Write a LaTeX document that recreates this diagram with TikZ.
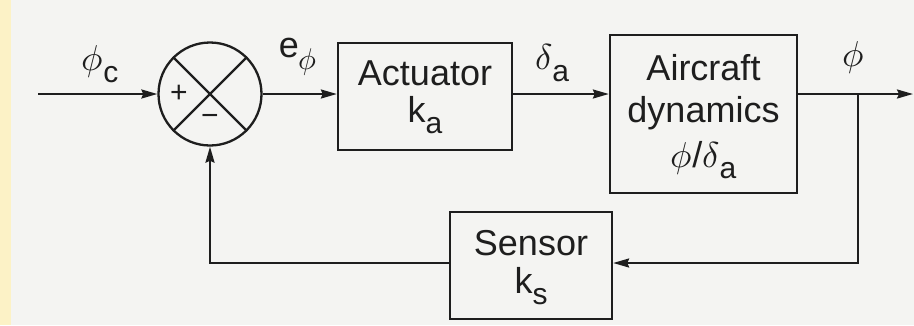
\documentclass[tikz,border=0pt]{standalone}
\usepackage{fontspec}
\usepackage{unicode-math}
\setmainfont{Liberation Sans}
\setmathfont{Latin Modern Math}
\usetikzlibrary{arrows.meta,calc}
\definecolor{paper}{HTML}{F4F4F2}
\definecolor{strip}{HTML}{FCF2C6}
\definecolor{ink}{HTML}{1E1E1E}
\newcommand{\sbx}[1]{\raisebox{-0.32em}{\fontsize{30}{30}\selectfont #1}}
\begin{document}
\begin{tikzpicture}[x=1pt,y=-1pt,
  every node/.style={text=ink},
  blk/.style={draw=ink,line width=2.3pt,rectangle,inner sep=0pt},
  txt/.style={anchor=base,inner sep=0pt,font=\fontsize{36}{40}\selectfont},
  lbl/.style={font=\fontsize{36}{40}\selectfont,inner sep=0pt},
  con/.style={draw=ink,line width=2.3pt},
  arr/.style={con,-{Stealth[length=16pt,width=9pt,inset=2pt]}}]
\fill[paper] (0,0) rectangle (914,325);
\fill[strip] (0,0) rectangle (11,325);
\useasboundingbox (0,0) rectangle (914,325);

\node[draw=ink,line width=2.3pt,circle,minimum size=103pt,inner sep=0pt] (sum) at (210,94) {};
\draw[con] (sum.north west) -- (sum.south east);
\draw[con] (sum.north east) -- (sum.south west);
\node[font=\fontsize{30}{30}\selectfont,inner sep=0pt] (plus) at ($(sum.center)+(-31,0)$) {+};
\node[font=\fontsize{30}{30}\selectfont,inner sep=0pt] (minus) at ($(sum.center)+(0,26)$) {\textminus};

\node[blk,minimum width=174pt,minimum height=107pt] (act) at (425,96.5) {};
\node[txt] (act1) at (425,85) {Actuator};
\node[txt] (act2) at (425,122) {k\sbx{a}};

\node[blk,minimum width=187pt,minimum height=158pt] (air) at (703.5,114) {};
\node[txt] (air1) at (703.5,80) {Aircraft};
\node[txt] (air2) at (703.5,122) {dynamics};
\node[txt] (air3) at (703.5,167) {$\phi$/$\delta$\sbx{a}};

\node[blk,minimum width=162pt,minimum height=107pt] (sen) at (531,265.5) {};
\node[txt] (sen1) at (531,255) {Sensor};
\node[txt] (sen2) at (531,293) {k\sbx{s}};

\coordinate (in) at (38,94);
\coordinate (out) at (913,94);
\coordinate (br) at (858,94);
\coordinate (bl) at (858,263);
\coordinate (fl) at (210,263);

\draw[arr] (in) -- (sum.west);
\draw[arr] (sum.east) -- (sum.east -| act.west);
\draw[arr] (sum.east -| act.east) -- (sum.east -| air.west);
\draw[arr] (sum.east -| air.east) -- (out);
\draw[arr] (br) -- (bl) -- (bl -| sen.east);
\draw[arr] (fl -| sen.west) -- (fl) -- (sum.south);

\node[lbl] (lphic) at (100,64) {$\phi$\sbx{c}};
\node[lbl] (le) at (298,57) {e\raisebox{-0.32em}{\fontsize{30}{30}\selectfont$\phi$}};
\node[lbl] (ld) at (552,63) {$\delta$\sbx{a}};
\node[lbl] (lphi) at (853,58) {$\phi$};
\end{tikzpicture}
\end{document}
